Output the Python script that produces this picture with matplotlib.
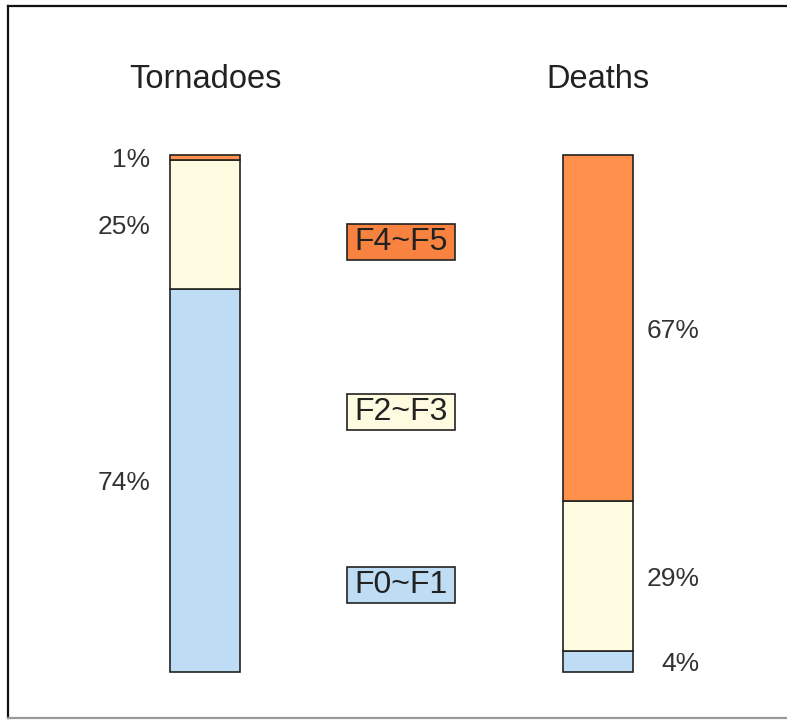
import matplotlib.pyplot as plt
from matplotlib.lines import Line2D
from matplotlib.patches import Rectangle

plt.rcParams['font.family'] = ['Liberation Sans', 'DejaVu Sans']

groups = ['Tornadoes', 'Deaths']
classes = ['F0~F1', 'F2~F3', 'F4~F5']
tornadoes = [74, 25, 1]
deaths = [4, 29, 67]
bar_colors = ['#bedcf3', '#fffbe0', '#ff914d']
box_colors = ['#bedcf3', '#fffbe0', '#f8823f']

fig = plt.figure(figsize=(7.87, 7.2), dpi=100)
ax = fig.add_axes([0, 0, 1, 1])
ax.set_xlim(-0.5216, 1.4809)
ax.set_ylim(-9.28, 129.98)
ax.axis('off')

w = 0.178
for i, vals in enumerate([tornadoes, deaths]):
    bottom = 0
    for j, v in enumerate(vals):
        ax.bar(i, v, width=w, bottom=bottom, color=bar_colors[j],
               edgecolor='#222222', linewidth=1.2)
        mid = bottom + v / 2 - 0.5
        if i == 0:
            ax.text(i - w / 2 - 0.05, mid, f'{v}%', ha='right', va='center',
                    fontsize=19, color='#333333')
        else:
            # right column labels are right-aligned further out
            ax.text(i + w / 2 + 0.17, mid, f'{v}%', ha='right', va='center',
                    fontsize=19, color='#333333')
        bottom += v
    ax.text(i, 114.6, groups[i], ha='center', va='center', fontsize=23.5,
            color='#222222')

# legend boxes in the middle
legend_y = [16.8, 50.3, 83.2]
bw, bh = 0.2748, 6.96
for j, c in enumerate(classes):
    ax.add_patch(Rectangle((0.4987 - bw / 2, legend_y[j] - bh / 2), bw, bh,
                           facecolor=box_colors[j], edgecolor='#222222',
                           linewidth=1.2))
    ax.text(0.4987, legend_y[j], c, ha='center', va='center', fontsize=23,
            color='#222222')

# outer frame (top, left, bottom)
fig.add_artist(Line2D([8 / 787, 1], [1 - 6 / 720, 1 - 6 / 720],
                      color='#111111', lw=1.6, transform=fig.transFigure))
fig.add_artist(Line2D([8 / 787, 8 / 787], [1 - 6 / 720, 2 / 720],
                      color='#111111', lw=1.6, transform=fig.transFigure))
fig.add_artist(Line2D([8 / 787, 1], [2 / 720, 2 / 720],
                      color='#999999', lw=1.6, transform=fig.transFigure))

fig.savefig('out.png', dpi=100)
